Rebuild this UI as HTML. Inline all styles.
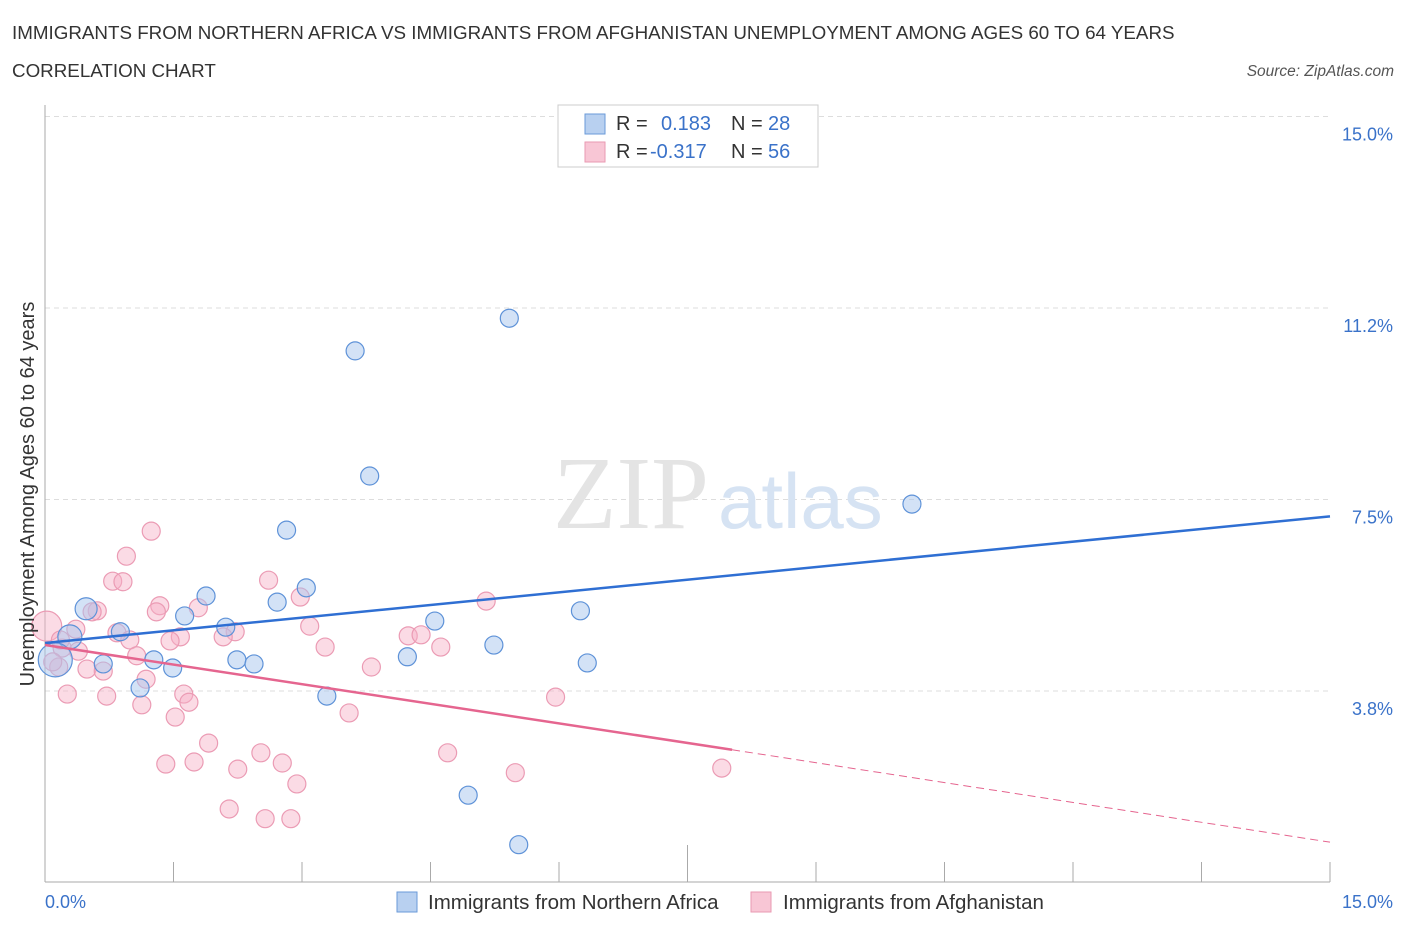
<!DOCTYPE html>
<html><head><meta charset="utf-8"><style>
body{margin:0;background:#fff;font-family:"Liberation Sans",sans-serif;}
svg text{font-family:"Liberation Sans",sans-serif;}
</style></head><body>
<svg width="1406" height="930" viewBox="0 0 1406 930">
<text x="12" y="39" font-size="18.8" fill="#333">IMMIGRANTS FROM NORTHERN AFRICA VS IMMIGRANTS FROM AFGHANISTAN UNEMPLOYMENT AMONG AGES 60 TO 64 YEARS</text>
<text x="12" y="77" font-size="18.8" fill="#333">CORRELATION CHART</text>
<text x="1394" y="76" font-size="15.5" fill="#555" font-style="italic" text-anchor="end">Source: ZipAtlas.com</text>
<g id="grid"></g>
<text x="553" y="528" font-size="104" fill="#e4e4e4" style="font-family:'Liberation Serif',serif">ZIP</text>
<text x="718" y="528" font-size="78" fill="#d6e3f3">atlas</text>
<g id="marks"></g>
<text transform="translate(34,494) rotate(-90)" font-size="20" fill="#333" text-anchor="middle">Unemployment Among Ages 60 to 64 years</text>
<text x="45" y="908" font-size="18" fill="#3a72c9">0.0%</text>
<text x="1393" y="908" font-size="18" fill="#3a72c9" text-anchor="end">15.0%</text>
<g>
<rect x="558" y="105" width="260" height="62" fill="#fff" stroke="#ccc"/>
<rect x="585" y="114" width="20" height="20" fill="#b8d0f0" stroke="#6a9ad8"/>
<rect x="585" y="142" width="20" height="20" fill="#f8c6d5" stroke="#e99ab2"/>
<text x="616" y="130" font-size="20" fill="#333">R = </text><text x="661" y="130" font-size="20" fill="#3a72c9">0.183</text>
<text x="731" y="130" font-size="20" fill="#333">N = </text><text x="768" y="130" font-size="20" fill="#3a72c9">28</text>
<text x="616" y="158" font-size="20" fill="#333">R = </text><text x="650" y="158" font-size="20" fill="#3a72c9">-0.317</text>
<text x="731" y="158" font-size="20" fill="#333">N = </text><text x="768" y="158" font-size="20" fill="#3a72c9">56</text>
</g>
<g>
<rect x="397" y="892" width="20" height="20" fill="#b8d0f0" stroke="#6a9ad8"/>
<text x="428" y="909" font-size="20.5" fill="#333">Immigrants from Northern Africa</text>
<rect x="751" y="892" width="20" height="20" fill="#f8c6d5" stroke="#e99ab2"/>
<text x="783" y="909" font-size="20.5" fill="#333">Immigrants from Afghanistan</text>
</g>
</svg>
<script>
const yTicks=[3.75,7.5,11.25,15];
const yTickLabels=["3.8%","7.5%","11.2%","15.0%"];
const xTicks=[0,1.5,3,4.5,6,7.5,9,10.5,12,13.5,15];
const blueX=[5.42,3.62,3.79,10.12,2.82,1.88,3.05,2.71,1.63,2.11,0.48,0.88,0.29,6.25,4.55,5.24,4.23,6.33,1.27,1.49,2.24,2.44,0.68,0.12,1.11,3.29,4.94,5.53];
const blueY=[11.05,10.41,7.96,7.41,6.90,5.61,5.77,5.49,5.22,5.00,5.36,4.91,4.81,5.32,5.12,4.65,4.42,4.30,4.36,4.20,4.36,4.28,4.28,4.36,3.81,3.65,1.71,0.74];
const blueR=[9,9,9,9,9,9,9,9,9,9,11,9,12,9,9,9,9,9,9,9,9,9,9,17,9,9,9,9];
const pinkX=[1.24,0.95,0.79,0.91,2.61,2.98,5.15,0.61,1.34,1.30,1.79,0.55,3.09,0.36,0.02,0.84,2.22,0.99,1.58,1.46,2.08,4.24,4.39,0.39,0.20,4.62,3.27,1.07,0.49,0.68,0.16,3.81,1.18,0.26,0.72,1.62,1.68,1.13,5.96,3.55,1.52,1.91,2.52,4.70,1.41,1.74,2.77,2.25,5.49,7.90,2.94,2.15,2.57,2.87,0.09,0.18];
const pinkY=[6.88,6.39,5.90,5.89,5.92,5.59,5.51,5.32,5.42,5.30,5.38,5.30,5.02,4.96,5.02,4.89,4.91,4.75,4.81,4.73,4.81,4.83,4.85,4.53,4.59,4.61,4.61,4.44,4.18,4.14,4.22,4.22,3.98,3.69,3.65,3.69,3.53,3.48,3.63,3.32,3.24,2.73,2.54,2.54,2.32,2.36,2.34,2.22,2.15,2.24,1.93,1.44,1.25,1.25,4.32,4.75];
const blueLine=[[0,4.69],[15,7.17]];
const pinkLine=[[0,4.65],[8.02,2.60],[15,0.79]];
const NS='http://www.w3.org/2000/svg';
const sx=v=>45+v/15*1285;
const sy=v=>882.5-v/3.75*191.5;
function mk(t,a,p){const e=document.createElementNS(NS,t);for(const k in a)e.setAttribute(k,a[k]);p.appendChild(e);return e;}
const grid=document.getElementById('grid');
const svg=document.querySelector('svg');
yTicks.forEach((v,i)=>{
 const l=mk('line',{x1:45,x2:1330,y1:sy(v),y2:sy(v),stroke:'#ddd','stroke-dasharray':'5,4'},grid);
 
 
 const t=mk('text',{x:1393,y:sy(v)+24,'font-size':18,fill:'#3a72c9','text-anchor':'end'},svg);
 t.textContent=yTickLabels[i];
 
 
});
const ax=mk('line',{x1:45,x2:45,y1:105,y2:882,stroke:'#aaa'},grid);


const bx=mk('line',{x1:45,x2:1330,y1:882,y2:882,stroke:'#aaa'},grid);


xTicks.forEach((v,i)=>{
 const l=mk('line',{x1:sx(v),x2:sx(v),y1:(i==5?845:862),y2:882,stroke:'#aaa'},grid);
 
 
});
const marks=document.getElementById('marks');
pinkX.forEach((x,i)=>{
 const c=mk('circle',{cx:sx(x),cy:sy(pinkY[i]),r:(i==14?15:9),fill:'rgba(246,176,198,0.45)',stroke:'#eb9bb4','stroke-width':1.2},marks);
 
 
});
blueX.forEach((x,i)=>{
 const c=mk('circle',{cx:sx(x),cy:sy(blueY[i]),r:blueR[i],fill:'rgba(168,198,238,0.5)',stroke:'#5e92d8','stroke-width':1.2},marks);
 
 
});
const bl=mk('line',{x1:sx(blueLine[0][0]),y1:sy(blueLine[0][1]),x2:sx(blueLine[1][0]),y2:sy(blueLine[1][1]),stroke:'#2f6fd3','stroke-width':2.5},marks);


const pl=mk('line',{x1:sx(pinkLine[0][0]),y1:sy(pinkLine[0][1]),x2:sx(pinkLine[1][0]),y2:sy(pinkLine[1][1]),stroke:'#e5658f','stroke-width':2.5},marks);


const pd=mk('line',{x1:sx(pinkLine[1][0]),y1:sy(pinkLine[1][1]),x2:sx(pinkLine[2][0]),y2:sy(pinkLine[2][1]),stroke:'#e5658f','stroke-width':1,'stroke-dasharray':'8,5'},marks);


</script>
</body></html>
